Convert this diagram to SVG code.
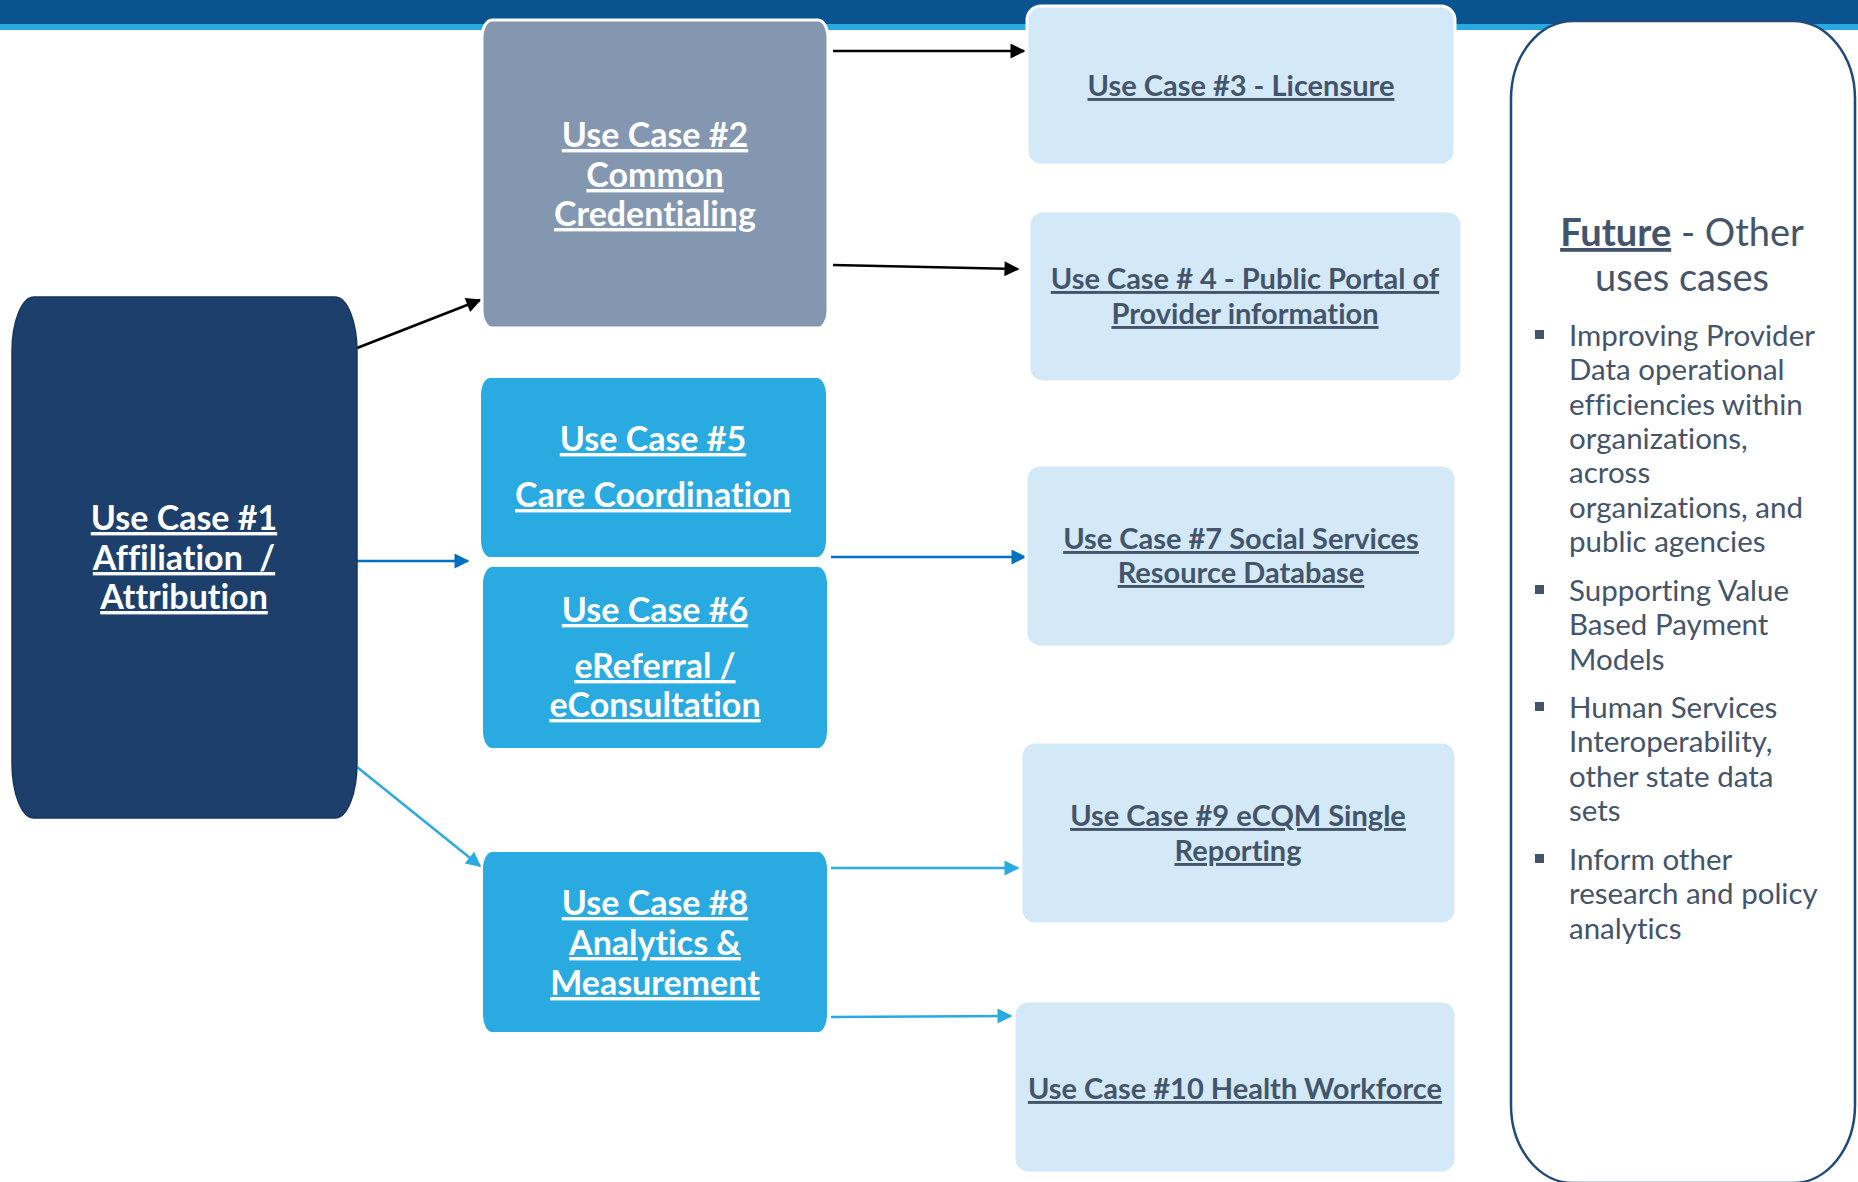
<svg xmlns="http://www.w3.org/2000/svg" width="1858" height="1182" viewBox="0 0 1858 1182">
  <style>
    text { font-variant-ligatures: none; }
    .t { font-family: Lato, "Liberation Sans", sans-serif; font-weight: bold; text-anchor: middle; text-decoration: underline; }
    .dark { fill: #ffffff; font-size: 34px; }
    .light { fill: #44546a; font-size: 29px; }
    .mid { fill: #29abe2; stroke: #ffffff; stroke-width: 2; }
    .pale { fill: #d3e9f8; stroke: #ffffff; stroke-width: 3; }
    .edge { fill: none; stroke-width: 2.5; }
    .bul { font-family: Lato, "Liberation Sans", sans-serif; font-size: 29.5px; fill: #44546a; }
  </style>
  <defs>
    <marker id="ahBlack" viewBox="0 0 10 10" refX="9" refY="5" markerWidth="17" markerHeight="15" markerUnits="userSpaceOnUse" orient="auto">
      <path d="M0,0 L10,5 L0,10 z" fill="#000000"/>
    </marker>
    <marker id="ahBlue" viewBox="0 0 10 10" refX="9" refY="5" markerWidth="17" markerHeight="15" markerUnits="userSpaceOnUse" orient="auto">
      <path d="M0,0 L10,5 L0,10 z" fill="#0070c0"/>
    </marker>
    <marker id="ahSky" viewBox="0 0 10 10" refX="9" refY="5" markerWidth="17" markerHeight="15" markerUnits="userSpaceOnUse" orient="auto">
      <path d="M0,0 L10,5 L0,10 z" fill="#29abe2"/>
    </marker>
  </defs>

  <!-- page background and header bands -->
  <rect x="0" y="0" width="1858" height="1182" fill="#ffffff"/>
  <rect x="0" y="0" width="1858" height="24" fill="#0a5391"/>
  <rect x="0" y="24" width="1858" height="6" fill="#2aa9e0"/>

  <!-- connectors -->
  <g id="connectors">
    <line class="edge" x1="357" y1="348" x2="480" y2="300" stroke="#000000" marker-end="url(#ahBlack)"/>
    <line class="edge" x1="357" y1="561" x2="468" y2="561" stroke="#0070c0" marker-end="url(#ahBlue)"/>
    <line class="edge" x1="357" y1="767" x2="480" y2="866" stroke="#29abe2" marker-end="url(#ahSky)"/>
    <line class="edge" x1="833" y1="51" x2="1024" y2="51" stroke="#000000" marker-end="url(#ahBlack)"/>
    <line class="edge" x1="833" y1="265" x2="1018" y2="269" stroke="#000000" marker-end="url(#ahBlack)"/>
    <line class="edge" x1="831" y1="557" x2="1025" y2="557" stroke="#0070c0" marker-end="url(#ahBlue)"/>
    <line class="edge" x1="831" y1="868" x2="1018" y2="868" stroke="#29abe2" marker-end="url(#ahSky)"/>
    <line class="edge" x1="831" y1="1017" x2="1011" y2="1016" stroke="#29abe2" marker-end="url(#ahSky)"/>
  </g>

  <g id="uc1">
    <rect x="12" y="297" width="345" height="521" rx="22" ry="55" fill="#1d3f6b" stroke="#17365d" stroke-width="1.5"/>
    <text class="t dark" x="184" y="530">Use Case #1</text>
    <text class="t dark" x="184" y="570" style="white-space:pre">Affiliation  /</text>
    <text class="t dark" x="184" y="609">Attribution</text>
  </g>

  <g id="uc2">
    <rect x="482" y="20" width="346" height="308" rx="10" ry="18" fill="#8497b0" stroke="#ffffff" stroke-width="3"/>
    <text class="t dark" x="655" y="147">Use Case #2</text>
    <text class="t dark" x="655" y="187">Common</text>
    <text class="t dark" x="655" y="226">Credentialing</text>
  </g>

  <g id="uc3">
    <rect class="pale" x="1027" y="6" width="428" height="159" rx="14" ry="14"/>
    <text class="t light" x="1241" y="96">Use Case #3 - Licensure</text>
  </g>

  <g id="uc4">
    <rect class="pale" x="1029" y="211" width="433" height="171" rx="14" ry="14"/>
    <text class="t light" x="1245" y="289">Use Case # 4 - Public Portal of</text>
    <text class="t light" x="1245" y="324">Provider information</text>
  </g>

  <g id="uc5">
    <rect class="mid" x="480" y="377" width="347" height="181" rx="10" ry="18"/>
    <text class="t dark" x="653" y="451">Use Case #5</text>
    <text class="t dark" x="653" y="507">Care Coordination</text>
  </g>

  <g id="uc6">
    <rect class="mid" x="482" y="566" width="346" height="183" rx="10" ry="18"/>
    <text class="t dark" x="655" y="622">Use Case #6</text>
    <text class="t dark" x="655" y="678">eReferral /</text>
    <text class="t dark" x="655" y="717">eConsultation</text>
  </g>

  <g id="uc7">
    <rect class="pale" x="1026" y="465" width="430" height="182" rx="14" ry="14"/>
    <text class="t light" x="1241" y="549">Use Case #7 Social Services</text>
    <text class="t light" x="1241" y="583">Resource Database</text>
  </g>

  <g id="uc8">
    <rect class="mid" x="482" y="851" width="346" height="182" rx="10" ry="18"/>
    <text class="t dark" x="655" y="915">Use Case #8</text>
    <text class="t dark" x="655" y="955">Analytics &amp;</text>
    <text class="t dark" x="655" y="995">Measurement</text>
  </g>

  <g id="uc9">
    <rect class="pale" x="1021" y="742" width="435" height="182" rx="14" ry="14"/>
    <text class="t light" x="1238" y="826">Use Case #9 eCQM Single</text>
    <text class="t light" x="1238" y="861">Reporting</text>
  </g>

  <g id="uc10">
    <rect class="pale" x="1014" y="1001" width="442" height="172" rx="14" ry="14"/>
    <text class="t light" x="1235" y="1099">Use Case #10 Health Workforce</text>
  </g>

  <g id="future">
    <rect x="1511" y="21" width="344" height="1162" rx="62" ry="78" fill="#ffffff" stroke="#1f497d" stroke-width="2.5"/>
    <text x="1682" y="246" font-family="Lato, 'Liberation Sans', sans-serif" font-size="38" fill="#44546a" text-anchor="middle"><tspan font-weight="bold" text-decoration="underline">Future</tspan> - Other</text>
    <text x="1682" y="291" font-family="Lato, 'Liberation Sans', sans-serif" font-size="38" fill="#44546a" text-anchor="middle">uses cases</text>
    <g fill="#44546a">
      <rect x="1535" y="330" width="9" height="9"/>
      <rect x="1535" y="585" width="9" height="9"/>
      <rect x="1535" y="702" width="9" height="9"/>
      <rect x="1535" y="854" width="9" height="9"/>
    </g>
    <text class="bul" x="1569" y="346">Improving Provider</text>
    <text class="bul" x="1569" y="380">Data operational</text>
    <text class="bul" x="1569" y="415">efficiencies within</text>
    <text class="bul" x="1569" y="449">organizations,</text>
    <text class="bul" x="1569" y="483">across</text>
    <text class="bul" x="1569" y="518">organizations, and</text>
    <text class="bul" x="1569" y="552">public agencies</text>
    <text class="bul" x="1569" y="601">Supporting Value</text>
    <text class="bul" x="1569" y="635">Based Payment</text>
    <text class="bul" x="1569" y="670">Models</text>
    <text class="bul" x="1569" y="718">Human Services</text>
    <text class="bul" x="1569" y="752">Interoperability,</text>
    <text class="bul" x="1569" y="787">other state data</text>
    <text class="bul" x="1569" y="821">sets</text>
    <text class="bul" x="1569" y="870">Inform other</text>
    <text class="bul" x="1569" y="904">research and policy</text>
    <text class="bul" x="1569" y="939">analytics</text>
  </g>
</svg>
